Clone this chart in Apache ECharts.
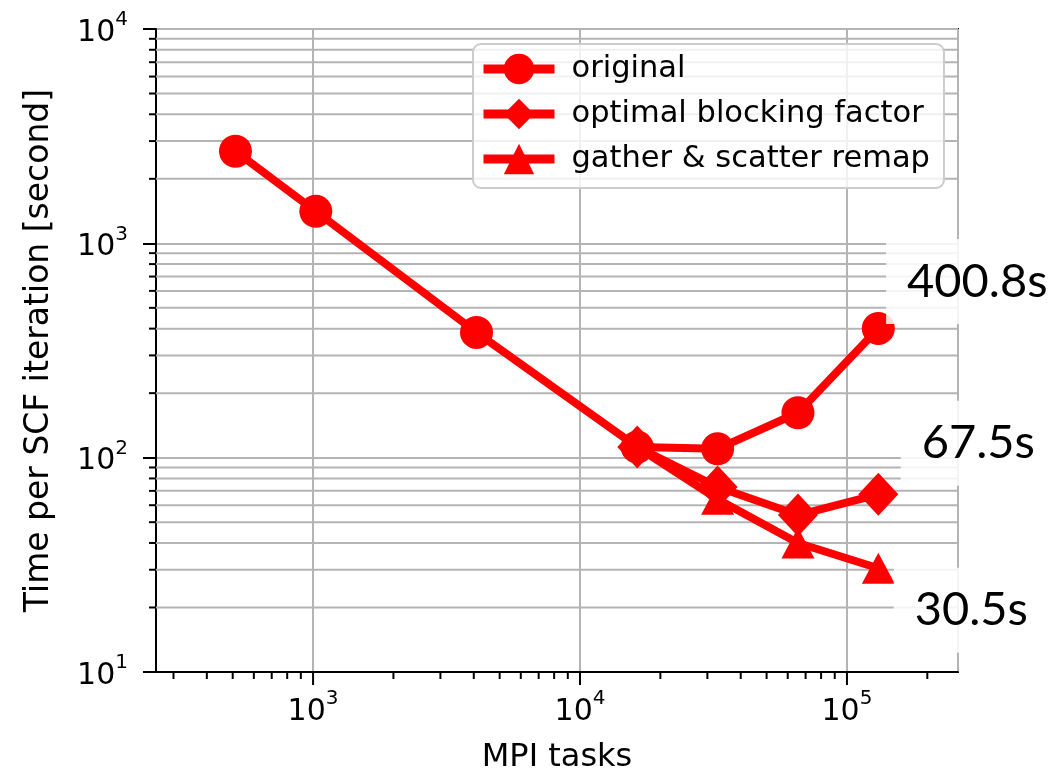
<!DOCTYPE html>
<html>
<head>
<meta charset="utf-8">
<title>SCF iteration time vs MPI tasks</title>
<script src="https://cdn.jsdelivr.net/npm/echarts@6/dist/echarts.min.js"></script>
<style>
  html, body { margin: 0; padding: 0; background: #fff; }
  #chart { width: 1053px; height: 779px; }
</style>
</head>
<body>
<div id="chart"></div>
<script>
// MPI task counts and time per SCF iteration (seconds)
const tasks = [512, 1024, 4096, 16384, 32768, 65536, 131072];
const original = [2690, 1410, 384, 112, 110, 162, 400.8];

const tunedTasks = [16384, 32768, 65536, 131072];
const blocking = [112, 73, 54, 67.5];
const remap = [112, 64, 40, 30.5];

const seriesNames = ['original', 'optimal blocking factor', 'gather & scatter remap'];

// axis structure
const X_MIN = 258, X_MAX = 260600;
const Y_MIN = 10, Y_MAX = 10000;
const xMajorTicks = [1000, 10000, 100000];
const xMinorTicks = [300, 400, 500, 600, 700, 800, 900,
                     2000, 3000, 4000, 5000, 6000, 7000, 8000, 9000,
                     20000, 30000, 40000, 50000, 60000, 70000, 80000, 90000,
                     200000];
const yMinorTicks = [20, 30, 40, 50, 60, 70, 80, 90,
                     200, 300, 400, 500, 600, 700, 800, 900,
                     2000, 3000, 4000, 5000, 6000, 7000, 8000, 9000];

const RED = '#ff0000';
const GRID_GRAY = '#b4b4b4';

function isPow10(v) {
  const e = Math.log10(v);
  return Math.abs(e - Math.round(e)) < 1e-6;
}
function powLabel(v) {
  if (!isPow10(v)) return '';
  return '{b|10}{s|' + Math.round(Math.log10(v)) + '}';
}

// value annotation placed beside the last point of a curve
function endLabel(dx, dy) {
  return {
    show: true,
    position: 'inside',
    offset: [dx, dy],
    formatter: p => p.value[1] + 's',
    color: '#000',
    fontFamily: 'Lato, "Liberation Sans", sans-serif',
    fontSize: 47,
    lineHeight: 57,
    backgroundColor: 'rgba(255,255,255,0.85)',
    padding: [14, 21, 14, 21]
  };
}

function curve(xs, ys, labelOffset, firstHidden) {
  return xs.map((x, i) => {
    const item = { value: [x, ys[i]] };
    if (i === xs.length - 1) item.label = endLabel(labelOffset[0], labelOffset[1]);
    if (firstHidden && i === 0) item.symbol = 'none';
    return item;
  });
}

// short outward tick marks below the x axis
function xTickSeries(values, len) {
  return {
    type: 'custom',
    silent: true,
    clip: false,
    data: values.map(v => [v, Y_MIN]),
    renderItem: (params, api) => {
      const p = api.coord([api.value(0), api.value(1)]);
      return {
        type: 'line',
        shape: { x1: p[0], y1: p[1], x2: p[0], y2: p[1] + len },
        style: { stroke: '#000', lineWidth: 2 }
      };
    }
  };
}

// minor horizontal grid lines with their short outward ticks
const yMinorSeries = {
  type: 'custom',
  silent: true,
  clip: false,
  data: yMinorTicks.map(v => [X_MIN, v]),
  renderItem: (params, api) => {
    const p = api.coord([api.value(0), api.value(1)]);
    const cs = params.coordSys;
    return {
      type: 'group',
      children: [
        { type: 'line', shape: { x1: cs.x, y1: p[1], x2: cs.x + cs.width, y2: p[1] },
          style: { stroke: GRID_GRAY, lineWidth: 2 } },
        { type: 'line', shape: { x1: cs.x - 7, y1: p[1], x2: cs.x, y2: p[1] },
          style: { stroke: '#000', lineWidth: 2 } }
      ]
    };
  }
};

const lineBase = {
  type: 'line',
  color: RED,
  lineStyle: { color: RED, width: 8 },
  itemStyle: { color: RED },
  showAllSymbol: true
};

const tickRich = {
  b: { fontSize: 30, color: '#000', lineHeight: 38, verticalAlign: 'bottom' },
  s: { fontSize: 20, color: '#000', lineHeight: 38, verticalAlign: 'top' }
};

const chart = echarts.init(document.getElementById('chart'), null, { renderer: 'canvas' });
chart.setOption({
  animation: false,
  backgroundColor: '#fff',
  textStyle: { fontFamily: '"DejaVu Sans", sans-serif', color: '#000' },
  grid: {
    left: 156, right: 95, top: 29, bottom: 107,
    show: true, borderColor: '#000', borderWidth: 2,
    containLabel: false, outerBoundsMode: 'none'
  },
  legend: {
    data: seriesNames,
    orient: 'vertical',
    left: 473, top: 44,
    itemWidth: 71, itemHeight: 38, itemGap: 7,
    padding: [6, 14, 10, 6],
    backgroundColor: 'rgba(255,255,255,0.8)',
    borderColor: '#cccccc', borderWidth: 2, borderRadius: 8,
    lineStyle: { width: 9 },
    textStyle: { fontFamily: '"DejaVu Sans", sans-serif', fontSize: 30.5, color: '#000',
                 lineHeight: 38, padding: [0, 0, 0, 12] }
  },
  xAxis: {
    type: 'log', logBase: 10, min: X_MIN, max: X_MAX,
    name: 'MPI tasks', nameLocation: 'middle', nameGap: 70,
    nameTextStyle: { fontSize: 32, color: '#000' },
    axisLine: { show: true, onZero: false, lineStyle: { color: '#000', width: 2 } },
    axisTick: { show: false },
    axisLabel: { margin: 17, formatter: powLabel, rich: tickRich },
    splitLine: { show: true, lineStyle: { color: GRID_GRAY, width: 2 } }
  },
  yAxis: {
    type: 'log', logBase: 10, min: Y_MIN, max: Y_MAX,
    name: 'Time per SCF iteration [second]', nameLocation: 'middle', nameGap: 100,
    nameTextStyle: { fontSize: 33, color: '#000' },
    axisLine: { show: true, onZero: false, lineStyle: { color: '#000', width: 2 } },
    axisTick: { show: true, length: 13, lineStyle: { color: '#000', width: 2 } },
    axisLabel: { margin: 28, formatter: powLabel, rich: tickRich },
    splitLine: { show: true, lineStyle: { color: GRID_GRAY, width: 2 } }
  },
  series: [
    yMinorSeries,
    xTickSeries(xMajorTicks, 13),
    xTickSeries(xMinorTicks, 7),
    Object.assign({}, lineBase, {
      name: seriesNames[0], symbol: 'circle', symbolSize: 33,
      data: curve(tasks, original, [99, -47], false)
    }),
    Object.assign({}, lineBase, {
      name: seriesNames[1], symbol: 'diamond', symbolSize: [40, 43],
      data: curve(tunedTasks, blocking, [100, -51], false)
    }),
    // the first point is shared with the blocking-factor curve, so only its segment is drawn
    Object.assign({}, lineBase, {
      name: seriesNames[2], symbol: 'triangle', symbolSize: [33, 31],
      data: curve(tunedTasks, remap, [93, 42], true)
    })
  ]
});
</script>
</body>
</html>
